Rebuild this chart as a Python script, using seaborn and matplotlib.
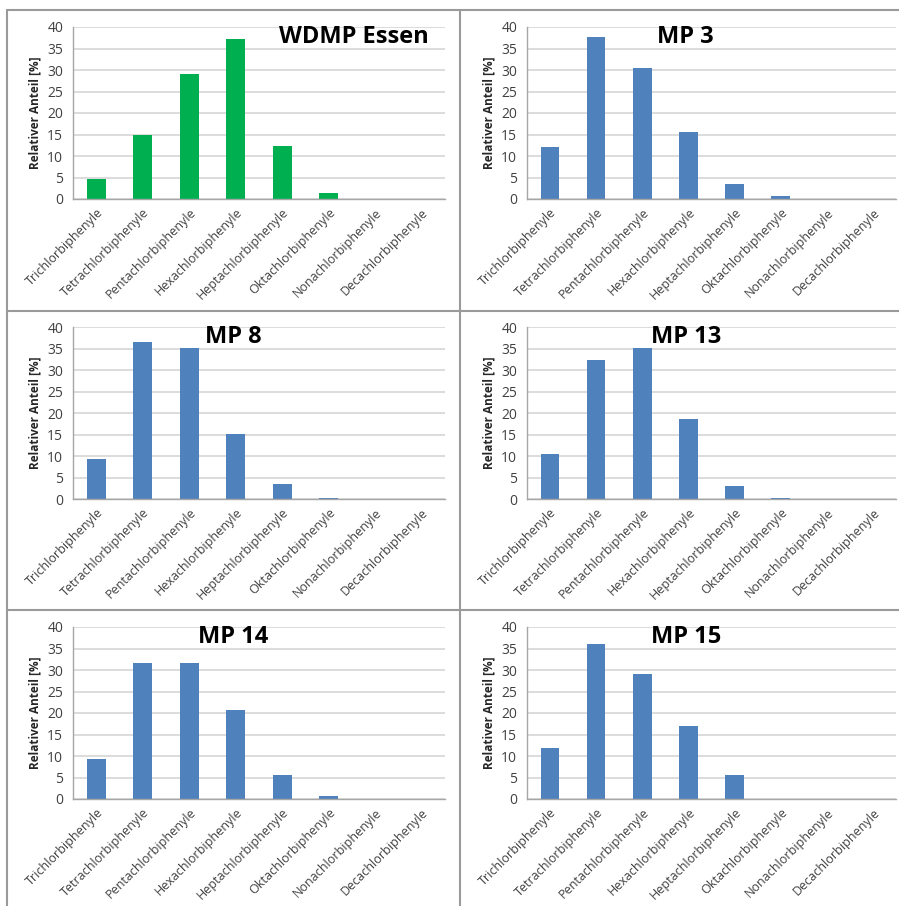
import matplotlib
matplotlib.use('agg')
from matplotlib import pyplot as plt
from matplotlib.lines import Line2D
import seaborn as sns
import numpy as np

categories = ['Trichlorbiphenyle', 'Tetrachlorbiphenyle', 'Pentachlorbiphenyle',
              'Hexachlorbiphenyle', 'Heptachlorbiphenyle', 'Oktachlorbiphenyle',
              'Nonachlorbiphenyle', 'Decachlorbiphenyle']

wdmp_essen = [4.7, 15.0, 29.1, 37.3, 12.4, 1.3, 0, 0]
mp3 = [12.0, 37.7, 30.4, 15.6, 3.6, 0.7, 0, 0]
mp8 = [9.2, 36.5, 35.1, 15.2, 3.6, 0.3, 0, 0]
mp13 = [10.4, 32.3, 35.1, 18.6, 3.1, 0.3, 0, 0]
mp14 = [9.2, 31.7, 31.7, 20.6, 5.5, 0.8, 0, 0]
mp15 = [11.9, 36.1, 29.1, 17.0, 5.5, 0, 0, 0]

titles = ['WDMP Essen', 'MP 3', 'MP 8', 'MP 13', 'MP 14', 'MP 15']
series = [wdmp_essen, mp3, mp8, mp13, mp14, mp15]
colors = ['#00B050', '#4F81BD', '#4F81BD', '#4F81BD', '#4F81BD', '#4F81BD']
yticks = [0, 5, 10, 15, 20, 25, 30, 35, 40]

sns.set_style('white')
plt.rcParams['font.family'] = ['Open Sans', 'DejaVu Sans']

W, H = 899, 906
fig = plt.figure(figsize=(W / 100, H / 100), dpi=100)

# panel boxes in pixels: (left, top, right, bottom)
col_x = [(73, 445), (527, 896)]
row_y = [(27, 199), (327, 499), (627, 799)]
title_x = [0.755, 0.43, 0.43, 0.43, 0.43, 0.43]

for i, (name, vals, col) in enumerate(zip(titles, series, colors)):
    r, c = divmod(i, 2)
    x0, x1 = col_x[c]
    y0, y1 = row_y[r]
    ax = fig.add_axes([x0 / W, 1 - y1 / H, (x1 - x0) / W, (y1 - y0) / H])
    sns.barplot(x=categories, y=vals, color=col, width=0.4, ax=ax,
                saturation=1, linewidth=0)
    ax.set_ylim(0, 40)
    ax.set_xlim(-0.5, 7.5)
    ax.set_yticks(yticks)
    ax.yaxis.grid(True, color='#D6D6D6', linewidth=1.2)
    ax.set_axisbelow(True)
    for s in ['top', 'right']:
        ax.spines[s].set_visible(False)
    for s in ['left', 'bottom']:
        ax.spines[s].set_color('#A6A6A6')
        ax.spines[s].set_linewidth(1.0)
    ax.set_xticks(np.arange(-0.5, 8.0, 1.0), minor=True)
    ax.tick_params(axis='x', which='minor', length=4, color='#A6A6A6', width=1)
    ax.tick_params(axis='x', which='major', length=0, pad=5)
    ax.tick_params(axis='y', length=4, color='#A6A6A6', width=1, pad=3,
                   labelsize=10, labelcolor='#404040')
    ax.set_xticklabels(categories, rotation=45, ha='right', rotation_mode='anchor',
                       fontsize=9, color='#404040')
    ax.set_ylabel('Relativer Anteil [%]', fontsize=8.5, fontweight='bold', labelpad=4)
    ax.set_xlabel('')
    ax.text(title_x[i], 0.94, name, transform=ax.transAxes, ha='center', va='center',
            fontsize=17, fontweight='bold', color='black')

# panel separator lines
lc = '#9A9A9A'
def fx(px):
    return px / W
def fy(py):
    return 1 - py / H
fig.add_artist(Line2D([fx(7), fx(899)], [fy(10), fy(10)], color=lc, lw=1.5))
fig.add_artist(Line2D([fx(7), fx(7)], [fy(10), fy(906)], color=lc, lw=1.5))
fig.add_artist(Line2D([fx(460), fx(460)], [fy(10), fy(906)], color=lc, lw=1.5))
fig.add_artist(Line2D([fx(7), fx(899)], [fy(311), fy(311)], color=lc, lw=1.5))
fig.add_artist(Line2D([fx(7), fx(899)], [fy(610), fy(610)], color=lc, lw=1.5))

fig.savefig('out.png', dpi=100, facecolor='white')
plt.close(fig)
